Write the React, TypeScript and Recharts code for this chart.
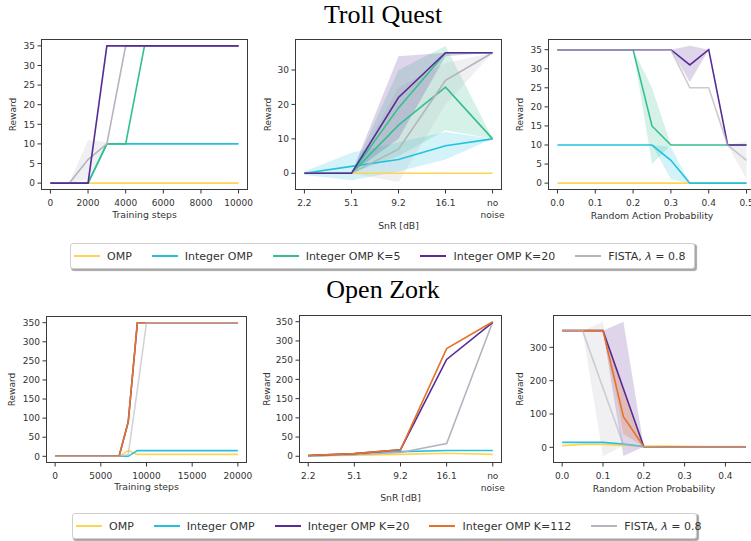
import React from "react";
import { ComposedChart, Line, Area, XAxis, YAxis } from "recharts";

const OMP = "#fdd453";
const INT = "#22c2df";
const K5 = "#33c08e";
const K20 = "#582b97";
const K112 = "#e5722a";
const FISTA = "#b5b3bf";
const INK = "#333";

// ---- Troll Quest: training steps
const tqStepX = [0, 1000, 2000, 3000, 4000, 5000, 6000, 7000, 8000, 9000, 10000];
const tqStepOmp = [0, 0, 0, 0, 0, 0, 0, 0, 0, 0, 0];
const tqStepInt = [0, 0, 0, 10, 10, 10, 10, 10, 10, 10, 10];
const tqStepK5 = [0, 0, 0, 10, 10, 35, 35, 35, 35, 35, 35];
const tqStepK20 = [0, 0, 0, 35, 35, 35, 35, 35, 35, 35, 35];
const tqStepFista = [0, 0, 6, 10, 35, 35, 35, 35, 35, 35, 35];
const tqStepFistaLo = [null, 0, 1, 9.5, null, null, null, null, null, null, null];
const tqStepFistaHi = [null, 0, 11, 10.5, null, null, null, null, null, null, null];

// ---- Troll Quest: SnR
const snrX = [0, 1, 2, 3, 4];
const snrLabels = ["2.2", "5.1", "9.2", "16.1", "no noise"];
const tqSnrOmp = [0, 0, 0, 0, 0];
const tqSnrInt = [0, 2, 4, 8, 10];
const tqSnrIntLo = [-0.5, -2, 0.5, 4, 10];
const tqSnrIntHi = [0.5, 6, 9, 12, 10];
const tqSnrK5 = [0, 0, 19, 35, 35];
const tqSnrK5b = [0, 0, 14, 25, 10];
const tqSnrK5bLo = [0, 0, 5, 12.5, 10];
const tqSnrK5bHi = [0, 0, 30, 37, 10];
const tqSnrK20 = [0, 0, 22, 35, 35];
const tqSnrK20Lo = [0, 0, 10, 34, 35];
const tqSnrK20Hi = [0, 0, 34, 35, 35];
const tqSnrFista = [0, 0, 7, 27, 35];
const tqSnrFistaLo = [0, 0, -2.5, 20, 35];
const tqSnrFistaHi = [0, 0, 25, 32, 35];

// ---- Troll Quest: random action probability
const tqRandX = [0, 0.05, 0.1, 0.15, 0.2, 0.25, 0.3, 0.35, 0.4, 0.45, 0.5];
const tqRandOmp = [0, 0, 0, 0, 0, 0, 0, 0, 0, 0, 0];
const tqRandInt = [10, 10, 10, 10, 10, 10, 6, 0, 0, 0, 0];
const tqRandIntLo = [null, null, null, null, null, 10, 1, 0, null, null, null];
const tqRandIntHi = [null, null, null, null, null, 10, 9.5, 0, null, null, null];
const tqRandK5 = [35, 35, 35, 35, 35, 15, 10, 10, 10, 10, 10];
const tqRandK5Lo = [null, null, null, null, 35, 5, 10, null, null, null, null];
const tqRandK5Hi = [null, null, null, null, 35, 25, 10, null, null, null, null];
const tqRandK20 = [35, 35, 35, 35, 35, 35, 35, 31, 35, 10, 10];
const tqRandK20Lo = [null, null, null, null, null, null, 35, 26.5, 35, null, null];
const tqRandK20Hi = [null, null, null, null, null, null, 35, 36, 35, null, null];
const tqRandFista = [35, 35, 35, 35, 35, 35, 35, 25, 25, 10, 6];
const tqRandFistaLo = [null, null, null, null, null, null, null, null, null, 10, 1];
const tqRandFistaHi = [null, null, null, null, null, null, null, null, null, 10, 11];

// ---- Open Zork: training steps
const ozStepX = [
  0, 1000, 2000, 3000, 4000, 5000, 6000, 7000, 8000, 9000, 10000,
  11000, 12000, 13000, 14000, 15000, 16000, 17000, 18000, 19000, 20000,
];
const ozStepOmp = [0, 0, 0, 0, 0, 0, 0, 0, 15, 5, 5, 5, 5, 5, 5, 5, 5, 5, 5, 5, 5];
const ozStepInt = [0, 0, 0, 0, 0, 0, 0, 0, 0, 15, 15, 15, 15, 15, 15, 15, 15, 15, 15, 15, 15];
const ozStepK20 = [0, 0, 0, 0, 0, 0, 0, 0, 90, 350, 350, 350, 350, 350, 350, 350, 350, 350, 350, 350, 350];
const ozStepK112 = [0, 0, 0, 0, 0, 0, 0, 0, 90, 350, 350, 350, 350, 350, 350, 350, 350, 350, 350, 350, 350];
const ozStepFista = [0, 0, 0, 0, 0, 0, 0, 0, 5, 175, 350, 350, 350, 350, 350, 350, 350, 350, 350, 350, 350];

// ---- Open Zork: SnR
const ozSnrOmp = [1, 3, 5, 8, 5];
const ozSnrInt = [1, 5, 12, 15, 15];
const ozSnrK20 = [2, 7, 17, 252, 348];
const ozSnrK112 = [2, 7, 17, 280, 350];
const ozSnrFista = [1, 5, 10, 33, 350];

// ---- Open Zork: random action probability
const ozRandX = [0, 0.05, 0.1, 0.15, 0.2, 0.25, 0.3, 0.35, 0.4, 0.45];
const ozRandOmp = [5, 9, 9, 6, 4, 4, 3, 2, 2, 2];
const ozRandInt = [15, 15, 15, 10, 2, 1, 1, 1, 1, 1];
const ozRandK20 = [350, 350, 350, 176, 2, 1, 1, 1, 1, 1];
const ozRandK20Lo = [null, null, 350, -26, 2, null, null, null, null, null];
const ozRandK20Hi = [null, null, 350, 377, 2, null, null, null, null, null];
const ozRandK112 = [350, 350, 350, 92, 2, 1, 1, 1, 1, 1];
const ozRandK112Lo = [null, null, 350, 40, 2, null, null, null, null, null];
const ozRandK112Hi = [null, null, 350, 180, 2, null, null, null, null, null];
const ozRandFista = [350, 350, 178, 8, 2, 1, 1, 1, 1, 1];
const ozRandFistaLo = [null, 350, -27, 5, null, null, null, null, null, null];
const ozRandFistaHi = [null, 350, 377, 10, null, null, null, null, null, null];

const tqLegend = [
  { name: "OMP", color: OMP },
  { name: "Integer OMP", color: INT },
  { name: "Integer OMP K=5", color: K5 },
  { name: "Integer OMP K=20", color: K20 },
  { name: "FISTA", color: FISTA },
];
const ozLegend = [
  { name: "OMP", color: OMP },
  { name: "Integer OMP", color: INT },
  { name: "Integer OMP K=20", color: K20 },
  { name: "Integer OMP K=112", color: K112 },
  { name: "FISTA", color: FISTA },
];

type Col = (number | null)[];
const band = (lo: Col, hi: Col) =>
  lo.map((l, i) => (l === null || hi[i] === null ? null : [l, hi[i]]));
const rows = (xs: number[], cols: Record<string, any[]>) =>
  xs.map((x, i) => {
    const r: any = { x };
    Object.keys(cols).forEach((k) => (r[k] = cols[k][i]));
    return r;
  });

const steps = (v: number) => String(v);
const prob = (v: number) => v.toFixed(1);
const snr = (v: number) => snrLabels[v];

const YW = 40;
const PAD_R = 30;
const PAD_B = 10;

const makeTick = (fmt: (v: number) => string) => (p: any) => {
  const parts = fmt(p.payload.value).split(" ");
  return (
    <text x={p.x} y={p.y} textAnchor="middle" fill={INK} fontSize={9}>
      {parts.map((s, i) => (
        <tspan key={i} x={p.x} dy={i === 0 ? "0.75em" : "1.3em"}>
          {s}
        </tspan>
      ))}
    </text>
  );
};

type SeriesDef = { key: string; color: string; opacity?: number };

function Panel(props: {
  left: number; top: number; w: number; h: number; axisH: number;
  data: any[]; xDomain: number[]; xTicks: number[]; xFmt: (v: number) => string;
  yDomain: number[]; yTicks: number[]; xLabel: string; labelOffset: number;
  bands: SeriesDef[]; lines: SeriesDef[];
}) {
  const { left, top, w, h, axisH } = props;
  const cw = w + YW + PAD_R;
  const ch = h + axisH + PAD_B;
  return (
    <div style={{ position: "absolute", left: left - YW, top, width: cw, height: ch }}>
      <ComposedChart
        width={cw}
        height={ch}
        data={props.data}
        margin={{ top: 0, right: PAD_R, bottom: PAD_B, left: 0 }}
      >
        <XAxis
          dataKey="x"
          type="number"
          domain={props.xDomain}
          ticks={props.xTicks}
          interval={0}
          allowDataOverflow
          height={axisH}
          axisLine={false}
          tickSize={3.5}
          tickMargin={6}
          tickLine={{ stroke: INK }}
          tick={makeTick(props.xFmt)}
          label={{ value: props.xLabel, position: "insideBottom", offset: 0, fill: INK, fontSize: 9.3 }}
        />
        <YAxis
          type="number"
          domain={props.yDomain}
          ticks={props.yTicks}
          interval={0}
          allowDataOverflow
          width={YW}
          axisLine={false}
          tickSize={3.5}
          tickMargin={2.5}
          tickLine={{ stroke: INK }}
          tick={{ fill: INK, fontSize: 9 }}
          label={{
            value: "Reward",
            angle: -90,
            position: "insideLeft",
            offset: props.labelOffset,
            fill: INK,
            fontSize: 9,
            style: { textAnchor: "middle" },
          }}
        />
        {props.bands.map((b) => (
          <Area
            key={"b" + b.key}
            dataKey={b.key}
            stroke="none"
            fill={b.color}
            fillOpacity={b.opacity ?? 0.2}
            connectNulls={false}
            dot={false}
            activeDot={false}
            isAnimationActive={false}
          />
        ))}
        {props.lines.map((l) => (
          <Line
            key={"l" + l.key}
            dataKey={l.key}
            stroke={l.color}
            strokeOpacity={l.opacity ?? 1}
            strokeWidth={1.6}
            dot={false}
            activeDot={false}
            isAnimationActive={false}
          />
        ))}
      </ComposedChart>
      <div
        style={{
          position: "absolute", left: YW, top: 0, width: w, height: h,
          border: "1px solid #3a3a3a", boxSizing: "border-box", pointerEvents: "none",
        }}
      />
    </div>
  );
}

function LegendBox({ items, left, top }: { items: { name: string; color: string }[]; left: number; top: number }) {
  return (
    <div
      style={{
        position: "absolute", left, top, width: 625, height: 26, boxSizing: "border-box",
        border: "1px solid #cfcfcf", borderRadius: 3, background: "#fff",
        boxShadow: "1.5px 1.5px 1px rgba(0,0,0,0.35)",
        display: "flex", alignItems: "center", paddingLeft: 3, fontSize: 11, color: INK,
      }}
    >
      {items.map((it) => (
        <div key={it.name} style={{ display: "flex", alignItems: "center", marginRight: 20 }}>
          <div style={{ width: 26, height: 2.5, background: it.color, marginRight: 7 }} />
          <span style={{ whiteSpace: "nowrap" }}>
            {it.name === "FISTA" ? (
              <>FISTA, <i>λ</i> = 0.8</>
            ) : (
              it.name
            )}
          </span>
        </div>
      ))}
    </div>
  );
}

const titleStyle: React.CSSProperties = {
  position: "absolute", left: 283, width: 200, textAlign: "center",
  fontFamily: "'Liberation Serif', serif", fontSize: 26, lineHeight: "26px", color: "#000",
};

export default function App() {
  const p1 = rows(tqStepX, {
    omp: tqStepOmp, int: tqStepInt, k5: tqStepK5, k20: tqStepK20, fista: tqStepFista,
    fistaBand: band(tqStepFistaLo, tqStepFistaHi),
  });
  const p2 = rows(snrX, {
    omp: tqSnrOmp, int: tqSnrInt, k5: tqSnrK5, k5b: tqSnrK5b, k20: tqSnrK20, fista: tqSnrFista,
    intBand: band(tqSnrIntLo, tqSnrIntHi), k5bBand: band(tqSnrK5bLo, tqSnrK5bHi),
    k20Band: band(tqSnrK20Lo, tqSnrK20Hi), fistaBand: band(tqSnrFistaLo, tqSnrFistaHi),
  });
  const p3 = rows(tqRandX, {
    omp: tqRandOmp, int: tqRandInt, k5: tqRandK5, k20: tqRandK20, fista: tqRandFista,
    intBand: band(tqRandIntLo, tqRandIntHi), k5Band: band(tqRandK5Lo, tqRandK5Hi),
    k20Band: band(tqRandK20Lo, tqRandK20Hi), fistaBand: band(tqRandFistaLo, tqRandFistaHi),
  });
  const p4 = rows(ozStepX, {
    omp: ozStepOmp, int: ozStepInt, k20: ozStepK20, k112: ozStepK112, fista: ozStepFista,
  });
  const p5 = rows(snrX, {
    omp: ozSnrOmp, int: ozSnrInt, k20: ozSnrK20, k112: ozSnrK112, fista: ozSnrFista,
  });
  const p6 = rows(ozRandX, {
    omp: ozRandOmp, int: ozRandInt, k20: ozRandK20, k112: ozRandK112, fista: ozRandFista,
    k20Band: band(ozRandK20Lo, ozRandK20Hi), k112Band: band(ozRandK112Lo, ozRandK112Hi),
    fistaBand: band(ozRandFistaLo, ozRandFistaHi),
  });

  const y35 = [0, 5, 10, 15, 20, 25, 30, 35];
  const y350 = [0, 50, 100, 150, 200, 250, 300, 350];

  return (
    <div
      style={{
        position: "fixed", left: 0, top: 0, width: 751, height: 541, overflow: "hidden",
        background: "#fff", fontFamily: "'DejaVu Sans', sans-serif",
      }}
    >
      <div style={{ ...titleStyle, top: 2 }}>Troll Quest</div>
      <div style={{ ...titleStyle, top: 277 }}>Open Zork</div>

      <Panel
        left={41} top={39} w={207} h={151} axisH={28} data={p1}
        xDomain={[-500, 10500]} xTicks={[0, 2000, 4000, 6000, 8000, 10000]} xFmt={steps}
        yDomain={[-1.75, 36.75]} yTicks={y35} xLabel="Training steps" labelOffset={12}
        bands={[{ key: "fistaBand", color: FISTA }]}
        lines={[
          { key: "omp", color: OMP }, { key: "int", color: INT }, { key: "k5", color: K5 },
          { key: "fista", color: FISTA }, { key: "k20", color: K20 },
        ]}
      />
      <Panel
        left={295} top={39} w={207} h={151} axisH={39} data={p2}
        xDomain={[-0.2, 4.2]} xTicks={snrX} xFmt={snr}
        yDomain={[-4.85, 39]} yTicks={[0, 10, 20, 30]} xLabel="SnR [dB]" labelOffset={13}
        bands={[
          { key: "intBand", color: INT }, { key: "k5bBand", color: K5 },
          { key: "fistaBand", color: FISTA }, { key: "k20Band", color: K20 },
        ]}
        lines={[
          { key: "omp", color: OMP }, { key: "int", color: INT }, { key: "k5b", color: K5 },
          { key: "k5", color: K5 }, { key: "fista", color: FISTA }, { key: "k20", color: K20 },
        ]}
      />
      <Panel
        left={548} top={39} w={208} h={151} axisH={29} data={p3}
        xDomain={[-0.025, 0.525]} xTicks={[0, 0.1, 0.2, 0.3, 0.4, 0.5]} xFmt={prob}
        yDomain={[-1.8, 37.8]} yTicks={y35} xLabel="Random Action Probability" labelOffset={12}
        bands={[
          { key: "intBand", color: INT }, { key: "k5Band", color: K5 },
          { key: "k20Band", color: K20 }, { key: "fistaBand", color: FISTA },
        ]}
        lines={[
          { key: "omp", color: OMP }, { key: "int", color: INT }, { key: "k5", color: K5 },
          { key: "k20", color: K20 }, { key: "fista", color: FISTA, opacity: 0.7 },
        ]}
      />

      <LegendBox items={tqLegend} left={70} top={243} />

      <Panel
        left={46} top={316} w={201} h={147} axisH={27} data={p4}
        xDomain={[-1000, 21000]} xTicks={[0, 5000, 10000, 15000, 20000]} xFmt={steps}
        yDomain={[-17.5, 367.5]} yTicks={y350} xLabel="Training steps" labelOffset={6}
        bands={[]}
        lines={[
          { key: "omp", color: OMP }, { key: "int", color: INT }, { key: "k20", color: K20 },
          { key: "k112", color: K112 }, { key: "fista", color: FISTA, opacity: 0.6 },
        ]}
      />
      <Panel
        left={299} top={315} w={203} h={148} axisH={38} data={p5}
        xDomain={[-0.2, 4.2]} xTicks={snrX} xFmt={snr}
        yDomain={[-17.5, 367.5]} yTicks={y350} xLabel="SnR [dB]" labelOffset={8}
        bands={[]}
        lines={[
          { key: "omp", color: OMP }, { key: "int", color: INT }, { key: "fista", color: FISTA },
          { key: "k20", color: K20 }, { key: "k112", color: K112 },
        ]}
      />
      <Panel
        left={553} top={315} w={202} h={148} axisH={29} data={p6}
        xDomain={[-0.0225, 0.4725]} xTicks={[0, 0.1, 0.2, 0.3, 0.4]} xFmt={prob}
        yDomain={[-47, 397]} yTicks={[0, 100, 200, 300]} xLabel="Random Action Probability" labelOffset={7}
        bands={[
          { key: "fistaBand", color: FISTA }, { key: "k20Band", color: K20 },
          { key: "k112Band", color: K112, opacity: 0.25 },
        ]}
        lines={[
          { key: "omp", color: OMP }, { key: "int", color: INT }, { key: "k20", color: K20 },
          { key: "k112", color: K112 }, { key: "fista", color: FISTA, opacity: 0.6 },
        ]}
      />

      <LegendBox items={ozLegend} left={72} top={513} />
    </div>
  );
}
